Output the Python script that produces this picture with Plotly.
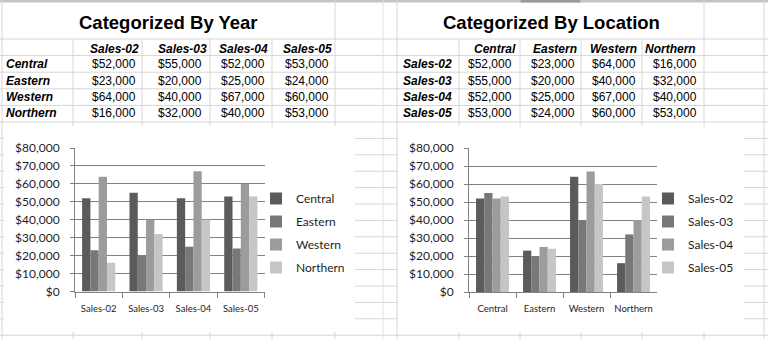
import plotly.graph_objects as go

W, H = 768, 339

# ---------------- data ----------------
regions = ["Central", "Eastern", "Western", "Northern"]
years = ["Sales-02", "Sales-03", "Sales-04", "Sales-05"]
central = [52000, 55000, 52000, 53000]
eastern = [23000, 20000, 25000, 24000]
western = [64000, 40000, 67000, 60000]
northern = [16000, 32000, 40000, 53000]
by_region = [central, eastern, western, northern]
titles = ["Categorized By Year", "Categorized By Location"]

grays = ["#5b5b5b", "#787878", "#9c9c9c", "#c6c6c6"]
TABLE_FONT = "Liberation Sans, Arial, sans-serif"
CHART_FONT = "Lato, Carlito, sans-serif"
GRID = "#d6d6d6"
AXIS = "#828282"


def px(x):
    return x / W


def py(y):
    return 1 - y / H


fig = go.Figure()

# left chart: categories = years, series = regions
for i, r in enumerate(regions):
    fig.add_trace(go.Bar(x=years, y=by_region[i], name=r, marker_color=grays[i],
                         marker_line_width=0, xaxis="x", yaxis="y",
                         legend="legend", legendgroup="L" + r))
# right chart: categories = regions, series = years
for j, yr in enumerate(years):
    fig.add_trace(go.Bar(x=regions, y=[by_region[i][j] for i in range(len(regions))],
                         name=yr, marker_color=grays[j], marker_line_width=0,
                         xaxis="x2", yaxis="y2", legend="legend2", legendgroup="R" + yr))

shapes = []
# top header strip
shapes.append(dict(type="rect", xref="paper", yref="paper", x0=0, x1=1, y0=py(2.5), y1=1,
                   fillcolor="#c4c4c4", line_width=0, layer="below"))
shapes.append(dict(type="rect", xref="paper", yref="paper", x0=px(520), x1=px(581), y0=py(2.5), y1=1,
                   fillcolor="#9a9a9a", line_width=0, layer="below"))


def hline(y, x0=0, x1=W):
    shapes.append(dict(type="line", xref="paper", yref="paper", x0=px(x0), x1=px(x1),
                       y0=py(y), y1=py(y), line=dict(color=GRID, width=1), layer="below"))


def vline(x, y0=0, y1=H, color=GRID):
    shapes.append(dict(type="line", xref="paper", yref="paper", x0=px(x), x1=px(x),
                       y0=py(y0), y1=py(y1), line=dict(color=color, width=1), layer="below"))


rows = [39 + 16.6 * i for i in range(6)]
r = 138.4
while r < H:
    rows.append(r)
    r += 16.4
for y in rows:
    hline(y)

outer = [2, 335, 397, 704, 764]
inner = [73, 142, 210, 272, 459, 520, 581, 642]
for x in outer:
    vline(x)
for x in inner:
    vline(x, 0, 3)
    vline(x, 39, H)
vline(383, 0, H, color="#e2e2e2")

# chart areas (white)
for x0, x1 in [(4, 355), (398, 744)]:
    shapes.append(dict(type="rect", xref="paper", yref="paper", x0=px(x0), x1=px(x1),
                       y0=py(332), y1=py(126), fillcolor="white", line_width=0, layer="below"))

ann = []


def text(s, x, y, size=12, bold=False, italic=False, anchor="center", font=TABLE_FONT, color="black"):
    t = s
    if bold:
        t = "<b>" + t + "</b>"
    if italic:
        t = "<i>" + t + "</i>"
    ann.append(dict(text=t, x=px(x), y=py(y), xref="paper", yref="paper", xanchor=anchor,
                    yanchor="middle", showarrow=False, font=dict(family=font, size=size, color=color)))


# titles
text(titles[0], 168.5, 22, size=18.5, bold=True)
text(titles[1], 551, 22, size=18.5, bold=True)

row_y = [64, 81, 97, 113]
head_y = 49

# left table: rows = regions, cols = years
lh = [114, 182, 243.5, 307]
lv = [114, 179.5, 243, 306.5]
for c, yr in enumerate(years):
    text(yr, lh[c], head_y, bold=True, italic=True)
for ri, reg in enumerate(regions):
    text(reg, 4, row_y[ri], bold=True, italic=True, anchor="left")
    for c in range(len(years)):
        text("${:,}".format(by_region[ri][c]), lv[c], row_y[ri])

# right table: rows = years, cols = regions
rh = [494.5, 555, 613.5, 670.5]
rv = [489.5, 552.5, 614, 675]
for c, reg in enumerate(regions):
    text(reg, rh[c], head_y, bold=True, italic=True)
for ri, yr in enumerate(years):
    text(yr, 401, row_y[ri], bold=True, italic=True, anchor="left")
    for c in range(len(regions)):
        text("${:,}".format(by_region[c][ri]), rv[c], row_y[ri])

yaxis_common = dict(range=[0, 80000], dtick=10000, tickformat="$,.0f", showgrid=True,
                    gridcolor=AXIS, gridwidth=1, showline=True, linecolor=AXIS, linewidth=1,
                    ticks="outside", ticklen=4, tickcolor=AXIS, zeroline=False,
                    tickfont=dict(family=CHART_FONT, size=12, color="#1e1e1e"),
                    ticklabelstandoff=8, fixedrange=True, automargin=False)
xaxis_common = dict(type="category", tickson="boundaries", ticks="outside", ticklen=5,
                    tickcolor=AXIS, showline=True, linecolor=AXIS, linewidth=1,
                    showgrid=False, tickfont=dict(family=CHART_FONT, size=9.5, color="#1e1e1e"),
                    ticklabelstandoff=8, fixedrange=True, automargin=False)

legend_common = dict(xanchor="left", yanchor="top", bgcolor="rgba(0,0,0,0)",
                     font=dict(family=CHART_FONT, size=12, color="#1e1e1e"),
                     tracegroupgap=4, itemwidth=30, itemclick=False)

fig.update_layout(
    width=W, height=H, margin=dict(l=0, r=0, t=0, b=0, pad=0, autoexpand=False),
    paper_bgcolor="white", plot_bgcolor="rgba(0,0,0,0)",
    barmode="group", bargap=0.3, bargroupgap=0,
    xaxis=dict(domain=[px(75), px(264.5)], anchor="y", **xaxis_common),
    yaxis=dict(domain=[py(291.5), py(148)], anchor="x", **yaxis_common),
    xaxis2=dict(domain=[px(469), px(657)], anchor="y2", **xaxis_common),
    yaxis2=dict(domain=[py(292), py(148)], anchor="x2", **yaxis_common),
    legend=dict(x=px(256), y=py(184), **legend_common),
    legend2=dict(x=px(648), y=py(184), **legend_common),
    shapes=shapes, annotations=ann, showlegend=True,
)

fig.write_html("out.html")
